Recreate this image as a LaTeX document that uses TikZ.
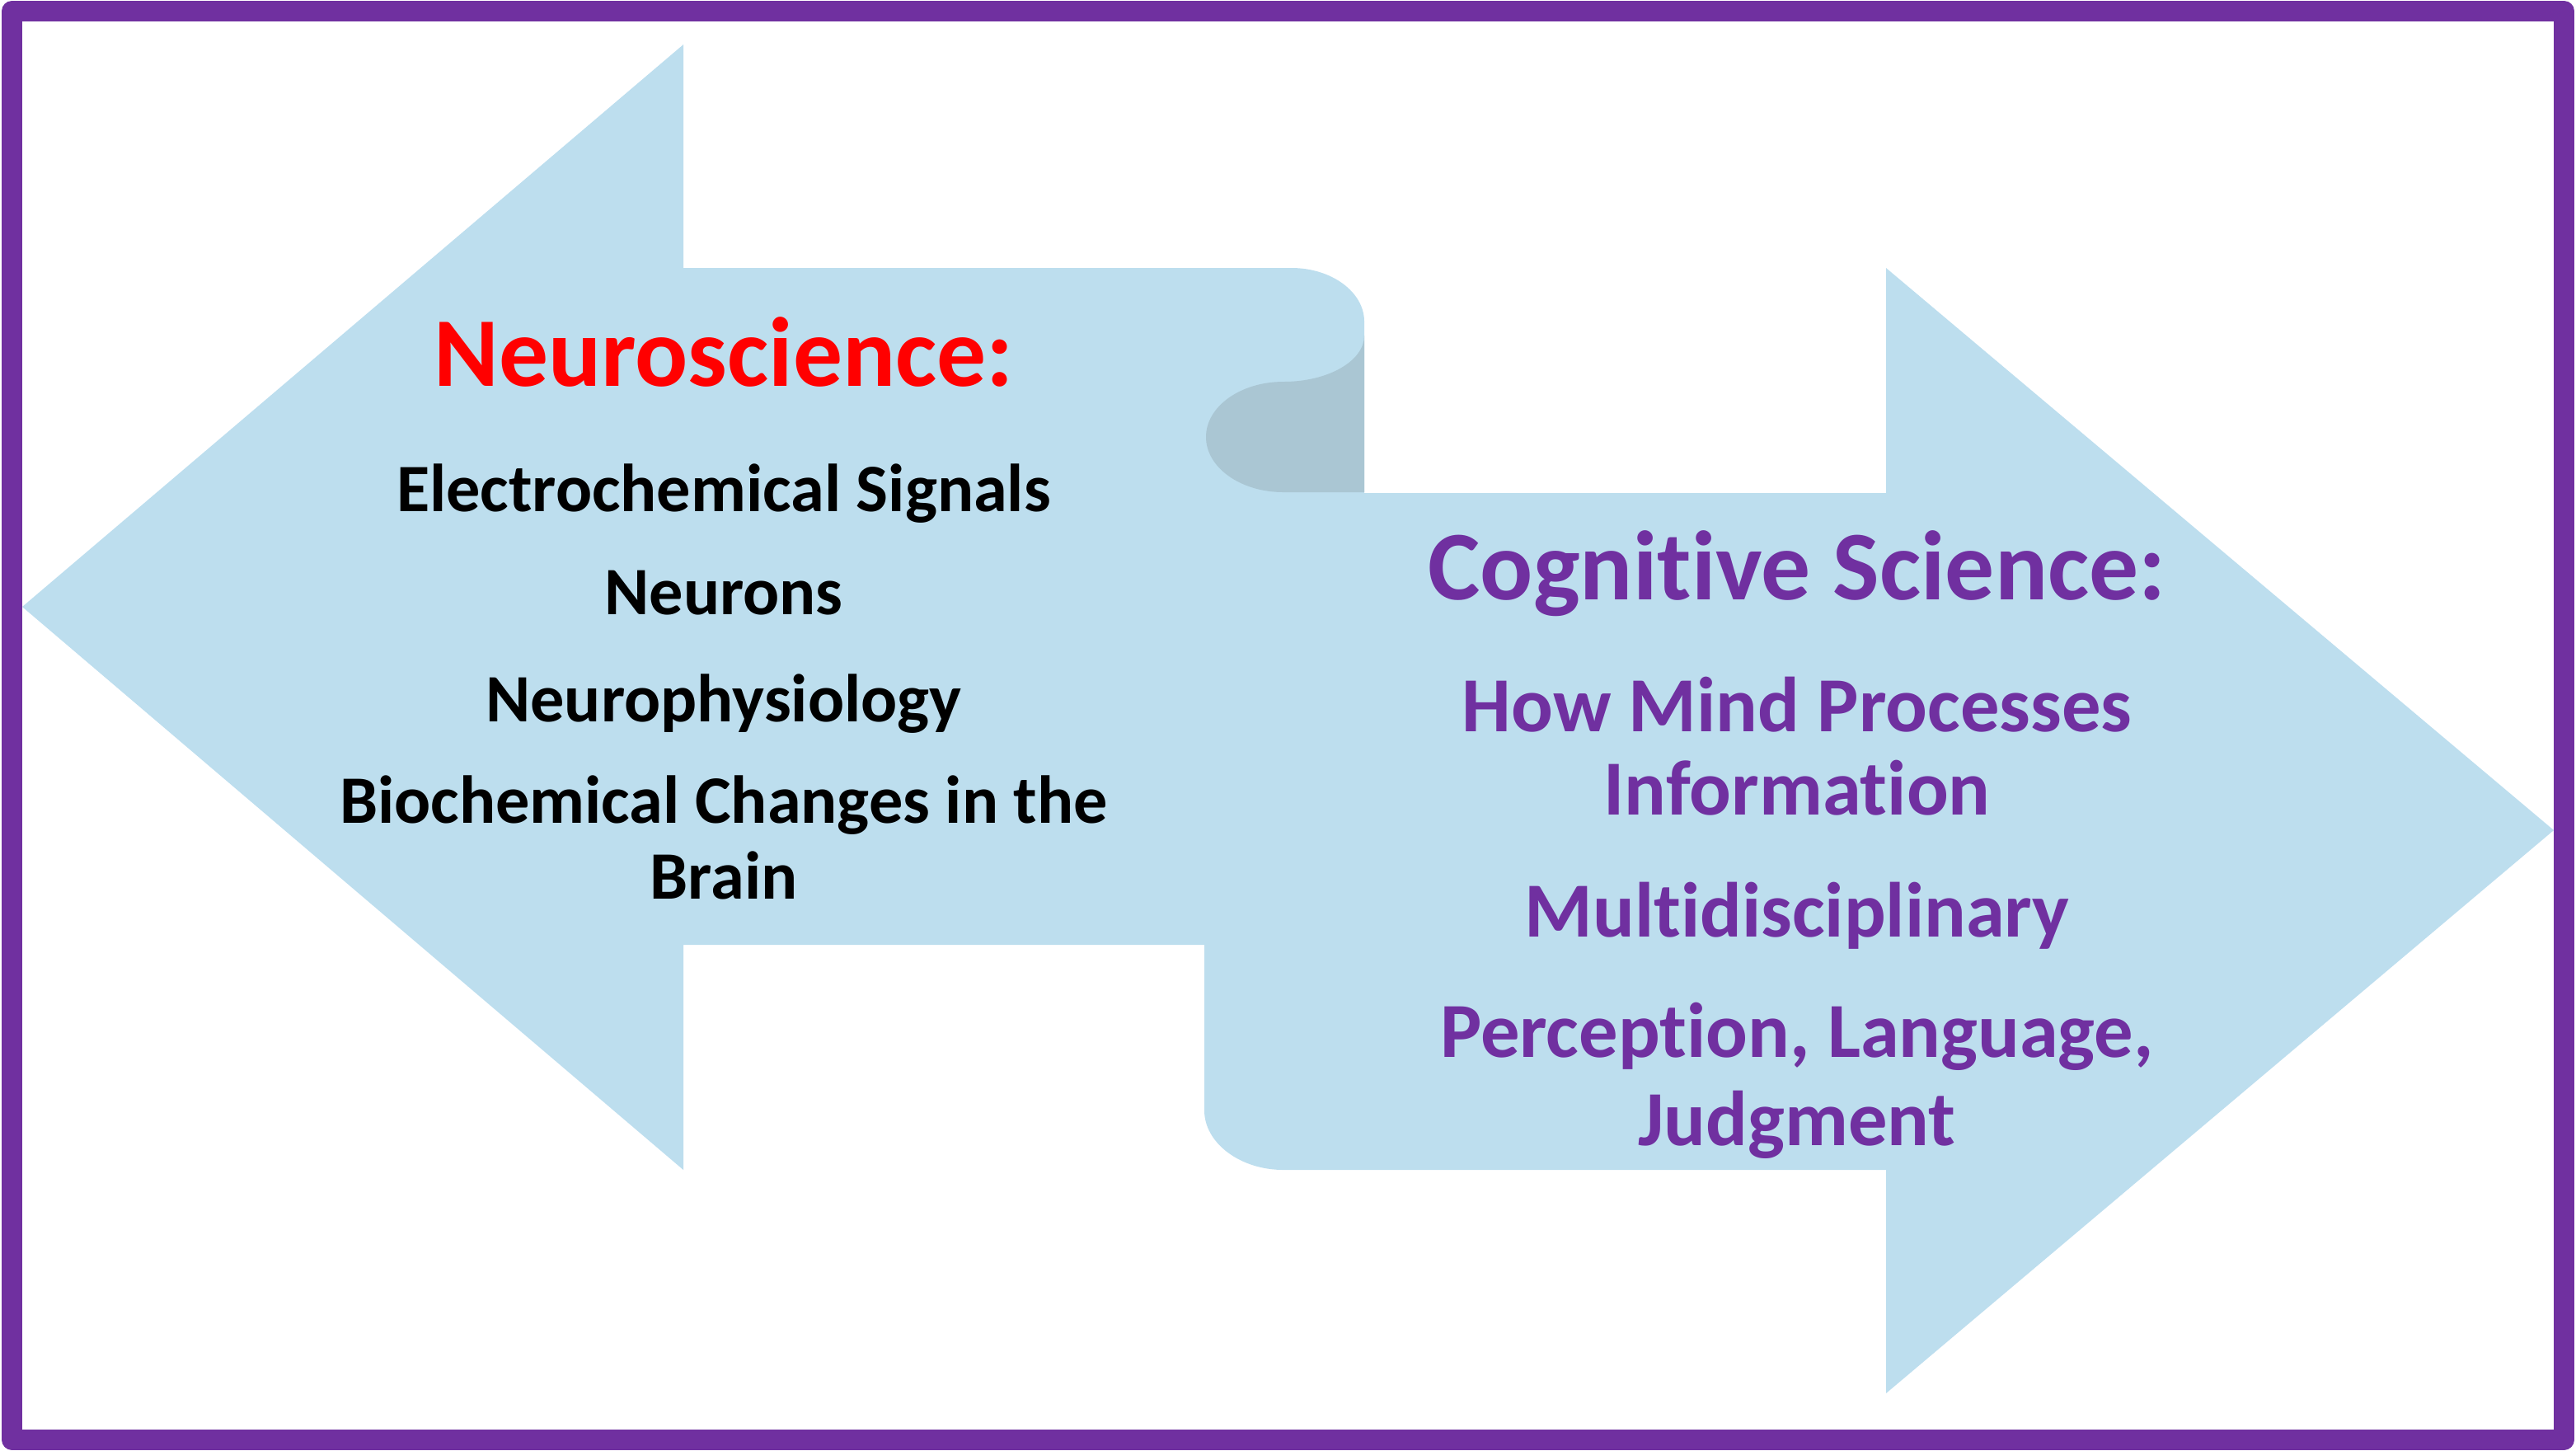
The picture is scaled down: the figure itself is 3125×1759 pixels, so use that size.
\documentclass[tikz,border=0pt]{standalone}
\usepackage{fontspec}
\setmainfont{Carlito}[Ligatures={NoCommon,NoContextual}]
\definecolor{arrowblue}{RGB}{189,222,238}
\definecolor{folddark}{RGB}{170,198,211}
\definecolor{borderpurple}{RGB}{112,48,160}
\definecolor{txtpurple}{RGB}{112,48,160}
\tikzset{
  titletxt/.style={anchor=base, font=\fontsize{34}{40}\selectfont\bfseries},
  lefttxt/.style={anchor=base, font=\fontsize{23.4}{28}\selectfont\bfseries, text=black},
  righttxt/.style={anchor=base, font=\fontsize{26.9}{32}\selectfont\bfseries, text=txtpurple},
}
\begin{document}
\begin{tikzpicture}[x=0.01cm,y=-0.01cm]
\useasboundingbox (0,0) rectangle (3125,1759);
% left arrow
\fill[arrowblue] (27,736) -- (829,54) -- (829,325) -- (1567,325)
  .. controls (1615,325) and (1655,354) .. (1655,390)
  -- (1655,1146) -- (829,1146) -- (829,1419) -- cycle;
% right arrow
\fill[arrowblue] (3098,1007) -- (2288,1690) -- (2288,1419) -- (1557,1419)
  .. controls (1504,1419) and (1461,1386) .. (1461,1347)
  -- (1461,598) -- (2288,598) -- (2288,325) -- cycle;
% fold
\fill[folddark] (1655,407) .. controls (1655,438) and (1611,463) .. (1557,463)
  .. controls (1505,463) and (1463,493) .. (1463,530)
  .. controls (1463,567) and (1505,597) .. (1557,597)
  -- (1655,597) -- cycle;
% border
\draw[borderpurple, line width=0.25cm, line join=round] (14.5,13.5) rectangle (3110.5,1746);
% left texts
\node[titletxt, text=red] (neuro) at (878,468) {Neuroscience:};
\node[lefttxt] (elec) at (878,620) {Electrochemical Signals};
\node[lefttxt] (neurons) at (878,745) {Neurons};
\node[lefttxt] (physio) at (878,875) {Neurophysiology};
\node[lefttxt] (bio) at (878,998) {Biochemical Changes in the};
\node[lefttxt] (brain) at (878,1090) {Brain};
% right texts
\node[titletxt, text=txtpurple] (cog) at (2180,727) {Cognitive Science:};
\node[righttxt] (how) at (2180,887) {How Mind Processes};
\node[righttxt] (info) at (2180,988) {Information};
\node[righttxt] (multi) at (2180,1136) {Multidisciplinary};
\node[righttxt] (perc) at (2180,1282) {Perception, Language,};
\node[righttxt] (judg) at (2180,1389) {Judgment};
\end{tikzpicture}
\end{document}
